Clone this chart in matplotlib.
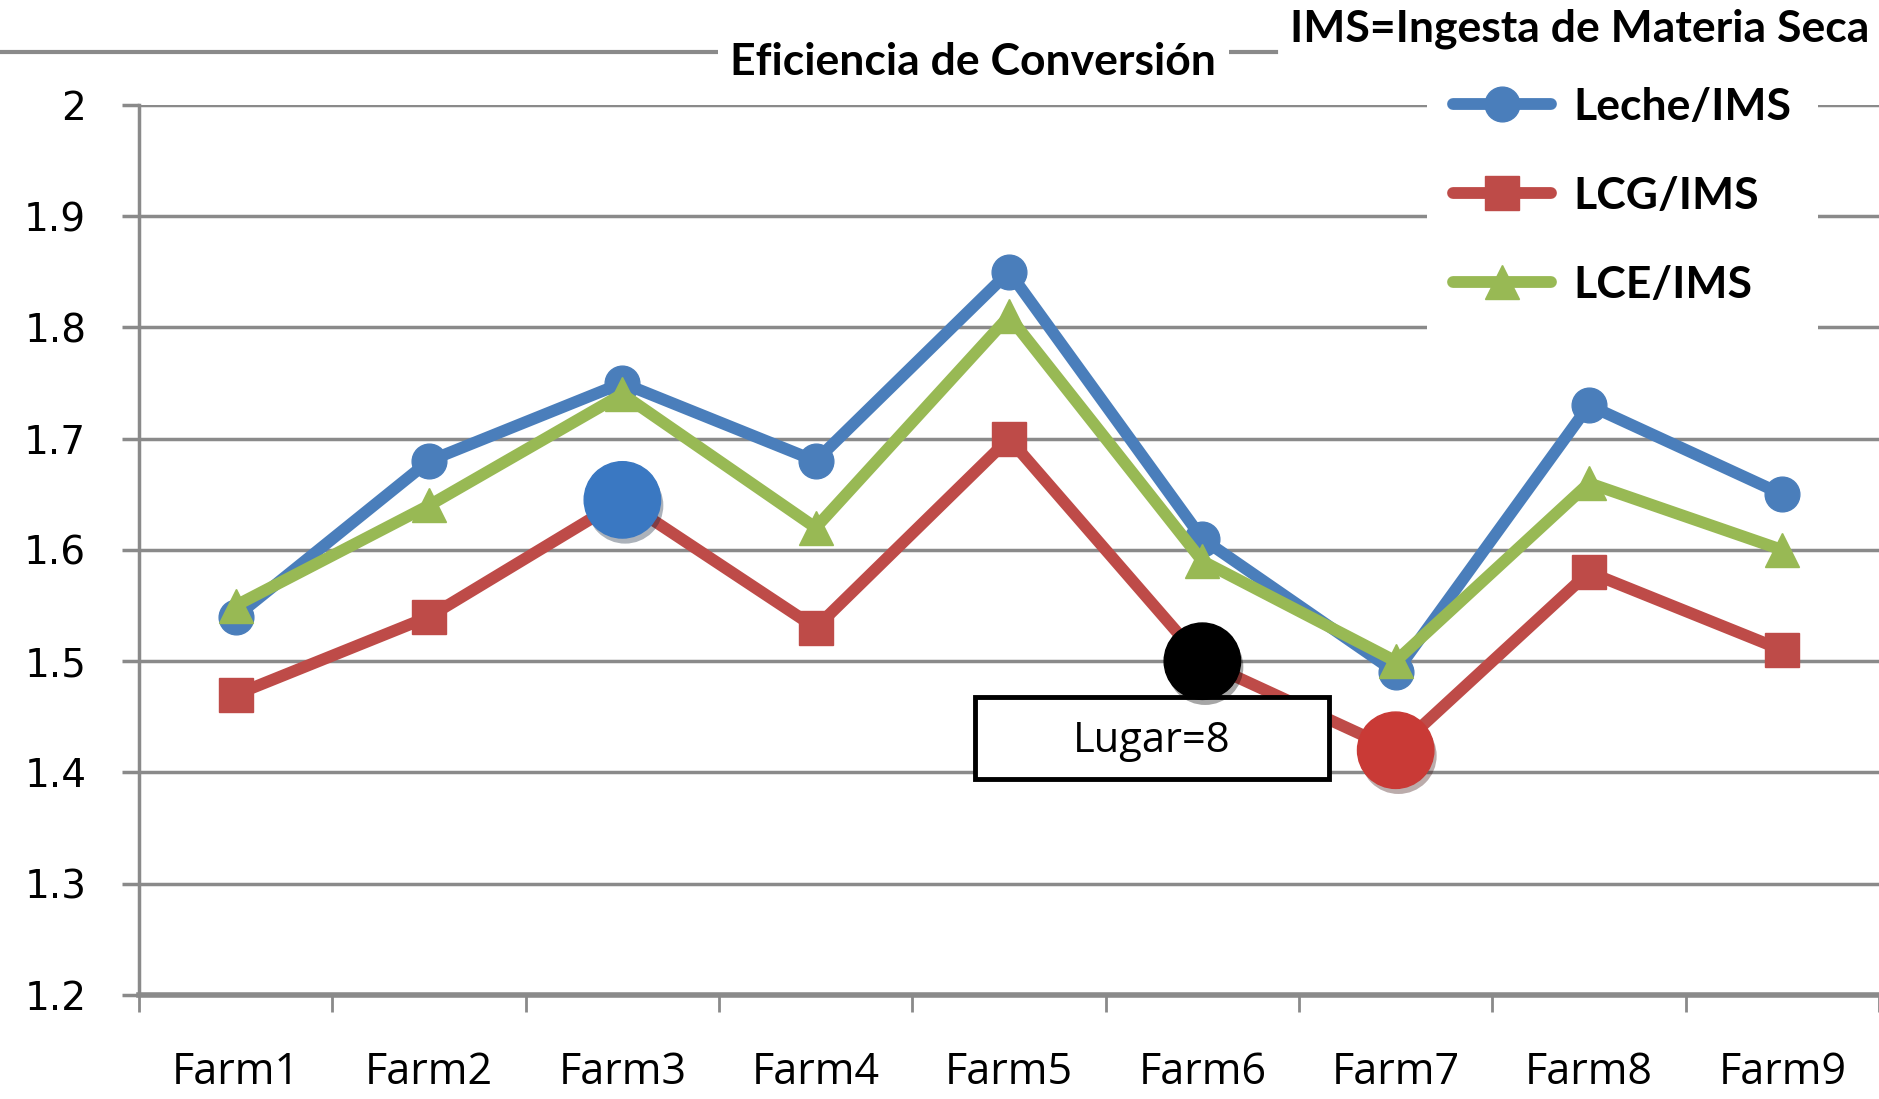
import matplotlib
matplotlib.use('Agg')
import matplotlib.pyplot as plt
import matplotlib.lines as mlines
from matplotlib.patches import Rectangle
import matplotlib.patheffects as pe
import numpy as np

# Data
farms = ['Farm1', 'Farm2', 'Farm3', 'Farm4', 'Farm5', 'Farm6', 'Farm7', 'Farm8', 'Farm9']
leche_ims = [1.54, 1.68, 1.75, 1.68, 1.85, 1.61, 1.49, 1.73, 1.65]
lcg_ims = [1.47, 1.54, 1.645, 1.53, 1.70, 1.50, 1.42, 1.58, 1.51]
lce_ims = [1.55, 1.64, 1.74, 1.62, 1.81, 1.59, 1.50, 1.66, 1.60]

# Highlighted LCG points (big dots)
highlight_farms = ['Farm3', 'Farm6', 'Farm7']
highlight_colors = ['#3a78c2', '#000000', '#c93a36']

y_ticks = [1.2, 1.3, 1.4, 1.5, 1.6, 1.7, 1.8, 1.9, 2.0]
y_tick_labels = ['1.2', '1.3', '1.4', '1.5', '1.6', '1.7', '1.8', '1.9', '2']

title = 'Eficiencia de Conversión'
note = 'IMS=Ingesta de Materia Seca'
box_label = 'Lugar=8'

grid_col = '#8a8a8a'
bold_font = ['Lato', 'DejaVu Sans']

fig = plt.figure(figsize=(18.79, 10.99), dpi=100)
ax = fig.add_axes([0.074, 0.0946, 0.926, 0.81])

x = np.arange(len(farms))

# Series
series = [
    (leche_ims, 'Leche/IMS', '#4a7ebb', 'o'),
    (lcg_ims, 'LCG/IMS', '#be4b48', 's'),
    (lce_ims, 'LCE/IMS', '#98b954', '^'),
]
handles = []
for i, (vals, name, col, mk) in enumerate(series):
    ln, = ax.plot(x, vals, color=col, lw=8.5, marker=mk, markersize=25,
                  solid_joinstyle='round', solid_capstyle='round',
                  label=name, zorder=3 + i, clip_on=False)
    handles.append(ln)

# Big highlighted dots on LCG line
shadow = [pe.SimplePatchShadow(offset=(2, -4), alpha=0.35), pe.Normal()]
for farm, col in zip(highlight_farms, highlight_colors):
    idx = farms.index(farm)
    ax.plot(x[idx], lcg_ims[idx], 'o', color=col, markersize=55,
            markeredgecolor=col, zorder=10, path_effects=shadow)

# Lugar=8 annotation box
bx, by, bw, bh = 4.74, 1.431, 1.83, 0.073
ax.add_patch(Rectangle((bx - bw / 2, by - bh / 2), bw, bh, facecolor='white',
                       edgecolor='black', lw=3.5, zorder=9))
ax.text(bx, by - 0.003, box_label, ha='center', va='center', fontsize=30,
        family=['Open Sans', 'DejaVu Sans'], zorder=11)

# Axes styling
ax.set_xlim(-0.5, len(farms) - 0.5)
ax.set_ylim(1.2, 2.0)
ax.set_yticks(y_ticks)
ax.set_yticklabels(y_tick_labels, fontsize=28, family='DejaVu Sans')
ax.set_xticks(x)
ax.set_xticklabels(farms, fontsize=31, family=['Open Sans', 'DejaVu Sans'])
ax.set_xticks(np.arange(-0.5, len(farms)), minor=True)
ax.tick_params(axis='x', which='major', length=0, pad=40)
ax.tick_params(axis='x', which='minor', length=12, width=2, color=grid_col)
ax.tick_params(axis='y', length=12, width=2.5, color=grid_col, pad=26)

ax.grid(axis='y', color=grid_col, lw=2.5, zorder=0)
ax.set_axisbelow(True)
for s in ['top', 'right']:
    ax.spines[s].set_visible(False)
ax.spines['left'].set_color(grid_col)
ax.spines['left'].set_linewidth(2.5)
ax.spines['bottom'].set_color(grid_col)
ax.spines['bottom'].set_linewidth(4)

# Top decorative line with title on it
fig.add_artist(mlines.Line2D([0, 0.679], [0.9527, 0.9527], color=grid_col, lw=3))
fig.text(0.518, 0.944, title, ha='center', va='center', fontsize=32,
         fontweight='bold', family=bold_font,
         bbox=dict(facecolor='white', edgecolor='none', pad=9))
fig.text(0.995, 0.974, note, ha='right', va='center', fontsize=32,
         fontweight='bold', family=bold_font)

# Legend with white box over the grid
leg = ax.legend(handles=handles, loc='upper left', bbox_to_anchor=(0.74, 1.05),
                frameon=True, fancybox=False, facecolor='white', edgecolor='none',
                framealpha=1, prop={'family': bold_font, 'weight': 'bold', 'size': 32},
                handlelength=2.2, handletextpad=0.5, labelspacing=1.1,
                borderpad=0.6, borderaxespad=0)
leg.set_zorder(20)

fig.savefig('out.png', dpi=100)
